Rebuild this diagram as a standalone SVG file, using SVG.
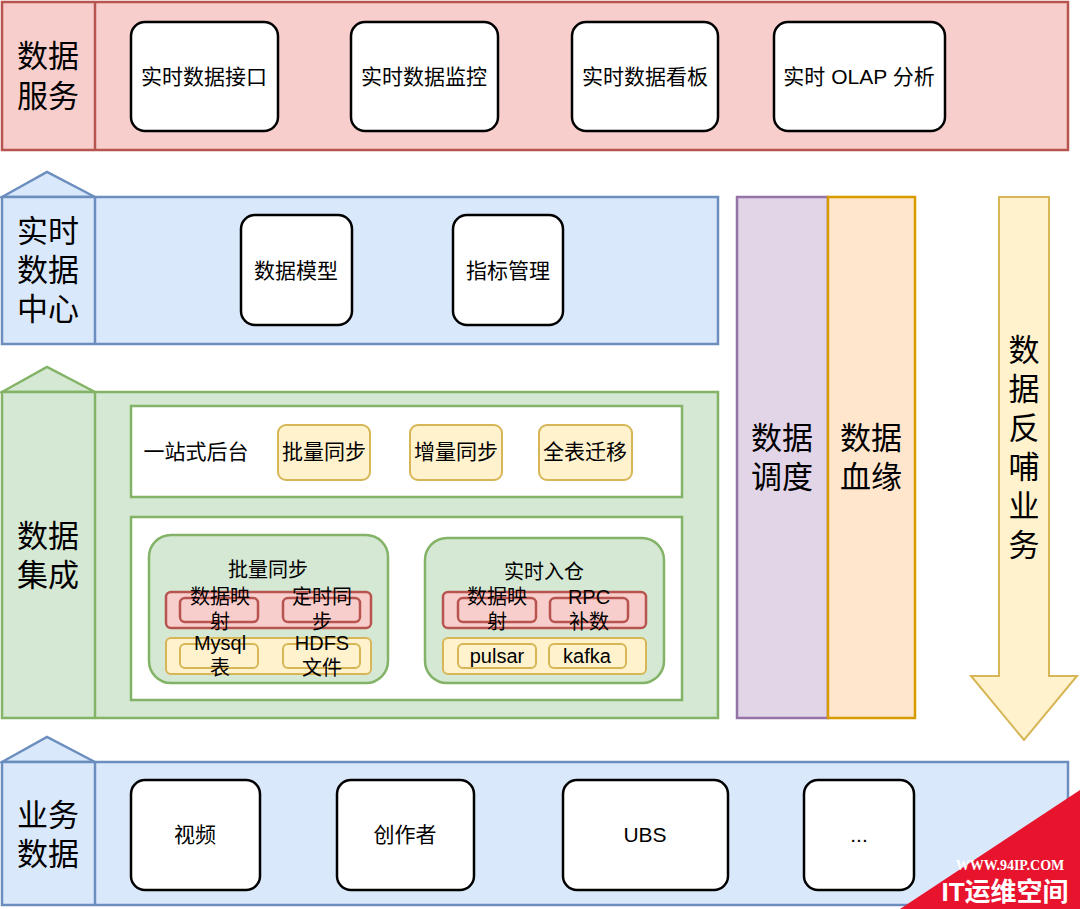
<svg xmlns="http://www.w3.org/2000/svg" width="1080" height="909" viewBox="0 0 1080 909">
<style>
text{font-family:"Liberation Sans","Noto Sans CJK SC",sans-serif;fill:#000;text-anchor:middle;dominant-baseline:central}
.big{font-size:31px}.mid{font-size:21px}.sm{font-size:20px}
.wb{fill:#fff;stroke:#000;stroke-width:2.5}
.red{fill:#f8cecc;stroke:#b85450;stroke-width:2.5}
.blue{fill:#dae8fc;stroke:#6c8ebf;stroke-width:2.5}
.green{fill:#d5e8d4;stroke:#82b366;stroke-width:2.5}
.yel{fill:#fff2cc;stroke:#d6b656;stroke-width:2}
.w2{fill:#fff;stroke:#82b366;stroke-width:2.5}
</style>
<rect width="1080" height="909" fill="#fff"/>
<g id="service">
<rect class="red" x="2" y="2" width="1066" height="148"/>
<line x1="95" y1="2" x2="95" y2="150" stroke="#b85450" stroke-width="2.5"/>
<text class="big" x="48" y="56">数据</text><text class="big" x="48" y="96">服务</text>
<rect class="wb" x="131" y="22" width="147" height="109" rx="14"/><text class="mid" x="204" y="76">实时数据接口</text>
<rect class="wb" x="351" y="22" width="147" height="109" rx="14"/><text class="mid" x="424" y="76">实时数据监控</text>
<rect class="wb" x="572" y="22" width="146" height="109" rx="14"/><text class="mid" x="645" y="76">实时数据看板</text>
<rect class="wb" x="774" y="22" width="171" height="109" rx="14"/><text class="mid" x="859" y="76">实时 OLAP 分析</text>
</g>
<g id="center">
<polygon class="blue" points="2,197 47,172 95,197"/>
<rect class="blue" x="2" y="197" width="716" height="147"/>
<line x1="95" y1="197" x2="95" y2="344" stroke="#6c8ebf" stroke-width="2.5"/>
<text class="big" x="48" y="231">实时</text><text class="big" x="48" y="270">数据</text><text class="big" x="48" y="309">中心</text>
<rect class="wb" x="241" y="215" width="111" height="110" rx="14"/><text class="mid" x="296" y="270">数据模型</text>
<rect class="wb" x="453" y="215" width="110" height="110" rx="14"/><text class="mid" x="508" y="270">指标管理</text>
</g>
<g id="integration">
<polygon class="green" points="2,392 47,367 95,392"/>
<rect class="green" x="2" y="392" width="716" height="326"/>
<line x1="95" y1="392" x2="95" y2="718" stroke="#82b366" stroke-width="2.5"/>
<text class="big" x="48" y="536">数据</text><text class="big" x="48" y="575">集成</text>
<rect class="w2" x="131" y="406" width="551" height="91"/>
<text class="mid" x="196" y="451">一站式后台</text>
<rect class="yel" x="278" y="425" width="92" height="55" rx="8"/><text class="mid" x="324" y="451">批量同步</text>
<rect class="yel" x="410" y="425" width="92" height="55" rx="8"/><text class="mid" x="456" y="451">增量同步</text>
<rect class="yel" x="539" y="425" width="93" height="55" rx="8"/><text class="mid" x="585" y="451">全表迁移</text>
<rect class="w2" x="131" y="517" width="551" height="183"/>
<rect class="green" x="149" y="535" width="239" height="148" rx="22"/>
<text class="sm" x="268" y="570">批量同步</text>
<rect class="red" x="166" y="592" width="205" height="36" rx="5" stroke-width="2"/>
<rect class="red" x="180" y="598" width="78" height="24" rx="5" stroke-width="2"/>
<rect class="red" x="283" y="598" width="77" height="24" rx="5" stroke-width="2"/>
<rect class="yel" x="166" y="638" width="205" height="36" rx="5"/>
<rect class="yel" x="180" y="644" width="78" height="24" rx="5"/>
<rect class="yel" x="283" y="644" width="77" height="24" rx="5"/>
<text class="sm" x="220" y="597">数据映</text><text class="sm" x="220" y="622">射</text>
<text class="sm" x="322" y="597">定时同</text><text class="sm" x="322" y="622">步</text>
<text class="sm" x="220" y="643">Mysql</text><text class="sm" x="220" y="668">表</text>
<text class="sm" x="322" y="643">HDFS</text><text class="sm" x="322" y="668">文件</text>
<rect class="green" x="425" y="538" width="239" height="145" rx="22"/>
<text class="sm" x="544" y="572">实时入仓</text>
<rect class="red" x="443" y="592" width="203" height="36" rx="5" stroke-width="2"/>
<rect class="red" x="458" y="598" width="78" height="24" rx="5" stroke-width="2"/>
<rect class="red" x="550" y="598" width="78" height="24" rx="5" stroke-width="2"/>
<rect class="yel" x="443" y="638" width="203" height="36" rx="5"/>
<rect class="yel" x="458" y="644" width="78" height="24" rx="5"/>
<rect class="yel" x="549" y="644" width="77" height="24" rx="5"/>
<text class="sm" x="497" y="597">数据映</text><text class="sm" x="497" y="622">射</text>
<text class="sm" x="589" y="597">RPC</text><text class="sm" x="589" y="622">补数</text>
<text class="sm" x="497" y="656">pulsar</text>
<text class="sm" x="587" y="656">kafka</text>
</g>
<g id="schedule">
<rect x="737" y="197" width="91" height="521" fill="#e1d5e7" stroke="#9673a6" stroke-width="2.5"/>
<text class="big" x="782" y="438">数据</text><text class="big" x="782" y="477">调度</text>
</g>
<g id="lineage">
<rect x="828" y="197" width="87" height="521" fill="#ffe6cc" stroke="#d79b00" stroke-width="2.5"/>
<text class="big" x="871" y="438">数据</text><text class="big" x="871" y="477">血缘</text>
</g>
<g id="feedback">
<polygon class="yel" stroke-width="2.5" points="999,197 1049,197 1049,676 1077,676 1024,740 971,676 999,676"/>
<text class="big" x="1024" y="350">数</text><text class="big" x="1024" y="389">据</text><text class="big" x="1024" y="428">反</text><text class="big" x="1024" y="467">哺</text><text class="big" x="1024" y="506">业</text><text class="big" x="1024" y="545">务</text>
</g>
<g id="business">
<polygon class="blue" points="2,762 47,737 95,762"/>
<rect class="blue" x="2" y="762" width="1066" height="143"/>
<line x1="95" y1="762" x2="95" y2="905" stroke="#6c8ebf" stroke-width="2.5"/>
<text class="big" x="48" y="815">业务</text><text class="big" x="48" y="854">数据</text>
<rect class="wb" x="131" y="780" width="129" height="110" rx="14"/><text class="mid" x="195" y="834">视频</text>
<rect class="wb" x="337" y="780" width="137" height="110" rx="14"/><text class="mid" x="405" y="834">创作者</text>
<rect class="wb" x="563" y="780" width="165" height="110" rx="14"/><text class="mid" x="645" y="834">UBS</text>
<rect class="wb" x="804" y="780" width="110" height="110" rx="14"/><text class="mid" x="859" y="834">...</text>
</g>
<g id="watermark">
<polygon points="1080,790 1080,909 900,909" fill="#e8142e"/>
<text x="1010" y="865" font-size="14" font-weight="bold" style="fill:#fff;font-family:'Liberation Serif',serif">WWW.94IP.COM</text>
<text x="1005" y="892" font-size="26" font-weight="bold" style="fill:#fff">IT运维空间</text>
</g>
</svg>
